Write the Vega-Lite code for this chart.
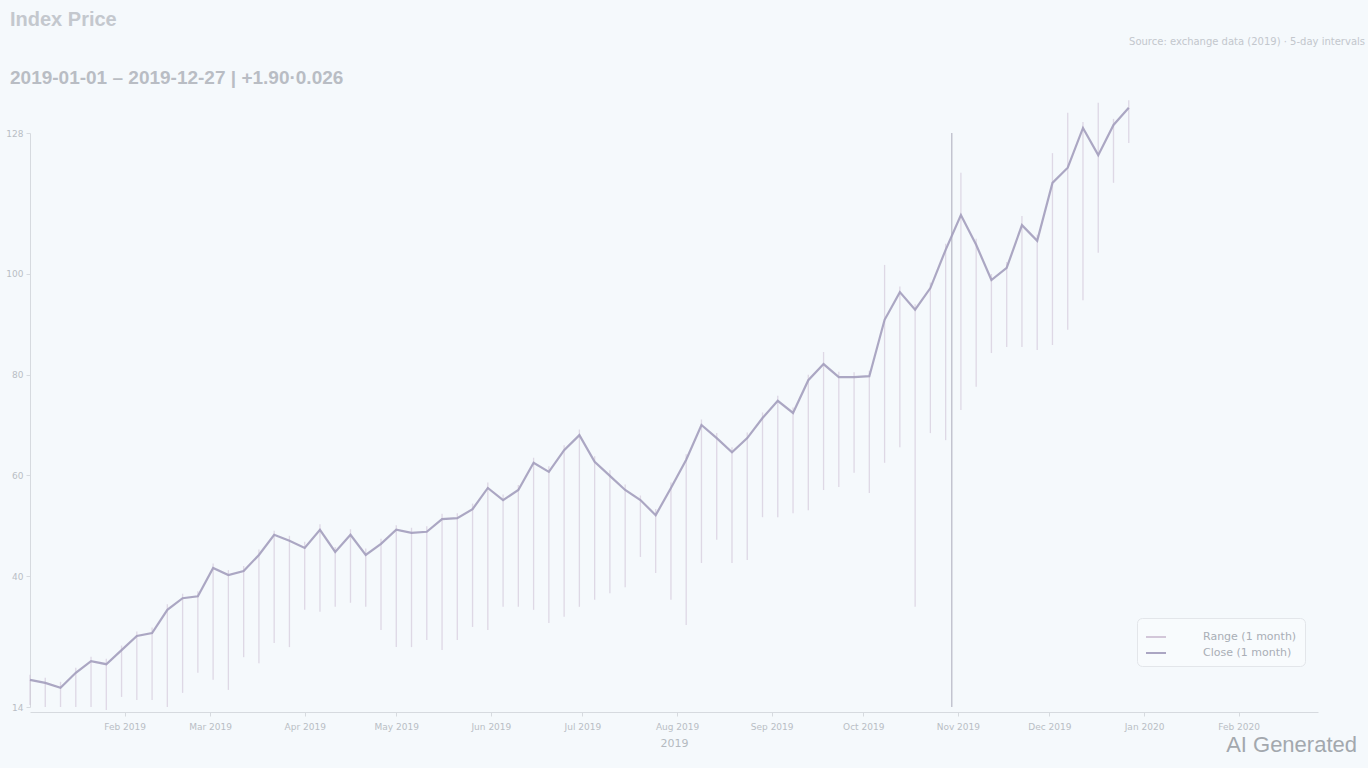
{
  "$schema": "https://vega.github.io/schema/vega-lite/v6.json",
  "width": 1288,
  "height": 574,
  "autosize": "none",
  "padding": {"left": 30, "top": 133, "right": 50, "bottom": 61},
  "background": "#f5f9fc",
  "title": {
    "text": "Index Price",
    "subtitle": "2019-01-01 – 2019-12-27 | +1.90·0.026",
    "anchor": "start",
    "frame": "group",
    "dx": -20,
    "offset": -51,
    "font": "Liberation Sans",
    "fontSize": 20,
    "fontWeight": "bold",
    "color": "#c4c8ce",
    "subtitleFont": "Liberation Sans",
    "subtitleFontSize": 19,
    "subtitleFontWeight": "bold",
    "subtitleColor": "#b9bdc4",
    "subtitlePadding": 39
  },
  "datasets": {
    "prices": [
      {"date": "2019-01-01", "close": 19.4, "low": 14.4, "high": 20.4},
      {"date": "2019-01-06", "close": 18.8, "low": 14.0, "high": 19.8},
      {"date": "2019-01-11", "close": 17.8, "low": 14.0, "high": 19.0},
      {"date": "2019-01-16", "close": 20.8, "low": 14.0, "high": 21.8},
      {"date": "2019-01-21", "close": 23.1, "low": 14.0, "high": 24.0},
      {"date": "2019-01-26", "close": 22.5, "low": 13.4, "high": 23.6},
      {"date": "2019-01-31", "close": 25.3, "low": 16.0, "high": 26.2},
      {"date": "2019-02-05", "close": 28.1, "low": 15.4, "high": 29.0},
      {"date": "2019-02-10", "close": 28.7, "low": 15.4, "high": 29.8},
      {"date": "2019-02-15", "close": 33.3, "low": 14.0, "high": 34.4},
      {"date": "2019-02-20", "close": 35.6, "low": 16.8, "high": 36.5},
      {"date": "2019-02-25", "close": 36.0, "low": 20.8, "high": 37.0},
      {"date": "2019-03-02", "close": 41.6, "low": 19.4, "high": 42.5},
      {"date": "2019-03-07", "close": 40.2, "low": 17.4, "high": 41.2},
      {"date": "2019-03-12", "close": 41.0, "low": 23.9, "high": 42.0},
      {"date": "2019-03-17", "close": 44.2, "low": 22.7, "high": 45.3},
      {"date": "2019-03-22", "close": 48.2, "low": 26.7, "high": 49.0},
      {"date": "2019-03-27", "close": 47.0, "low": 25.9, "high": 48.0},
      {"date": "2019-04-01", "close": 45.6, "low": 33.3, "high": 46.8},
      {"date": "2019-04-06", "close": 49.2, "low": 32.9, "high": 50.3},
      {"date": "2019-04-11", "close": 44.8, "low": 33.9, "high": 45.8},
      {"date": "2019-04-16", "close": 48.2, "low": 34.7, "high": 49.3},
      {"date": "2019-04-21", "close": 44.2, "low": 33.9, "high": 45.5},
      {"date": "2019-04-26", "close": 46.4, "low": 29.3, "high": 47.4},
      {"date": "2019-05-01", "close": 49.2, "low": 25.9, "high": 50.1},
      {"date": "2019-05-06", "close": 48.6, "low": 25.9, "high": 49.6},
      {"date": "2019-05-11", "close": 48.8, "low": 27.3, "high": 49.9},
      {"date": "2019-05-16", "close": 51.3, "low": 25.3, "high": 52.4},
      {"date": "2019-05-21", "close": 51.5, "low": 27.3, "high": 52.5},
      {"date": "2019-05-26", "close": 53.3, "low": 29.9, "high": 54.4},
      {"date": "2019-05-31", "close": 57.5, "low": 29.3, "high": 58.6},
      {"date": "2019-06-05", "close": 55.1, "low": 33.9, "high": 56.2},
      {"date": "2019-06-10", "close": 57.1, "low": 33.9, "high": 58.1},
      {"date": "2019-06-15", "close": 62.5, "low": 33.3, "high": 63.5},
      {"date": "2019-06-20", "close": 60.7, "low": 30.7, "high": 61.8},
      {"date": "2019-06-25", "close": 65.0, "low": 31.9, "high": 66.0},
      {"date": "2019-06-30", "close": 68.0, "low": 33.9, "high": 69.1},
      {"date": "2019-07-05", "close": 62.7, "low": 35.3, "high": 63.8},
      {"date": "2019-07-10", "close": 59.9, "low": 36.6, "high": 61.0},
      {"date": "2019-07-15", "close": 57.1, "low": 37.8, "high": 58.2},
      {"date": "2019-07-20", "close": 55.1, "low": 43.8, "high": 56.0},
      {"date": "2019-07-25", "close": 52.1, "low": 40.6, "high": 53.3},
      {"date": "2019-07-30", "close": 57.5, "low": 35.3, "high": 58.6},
      {"date": "2019-08-04", "close": 63.1, "low": 30.3, "high": 64.2},
      {"date": "2019-08-09", "close": 70.0, "low": 42.6, "high": 71.1},
      {"date": "2019-08-14", "close": 67.4, "low": 47.2, "high": 68.4},
      {"date": "2019-08-19", "close": 64.6, "low": 42.6, "high": 65.6},
      {"date": "2019-08-24", "close": 67.4, "low": 43.2, "high": 68.5},
      {"date": "2019-08-29", "close": 71.4, "low": 51.7, "high": 72.5},
      {"date": "2019-09-03", "close": 74.8, "low": 51.7, "high": 75.8},
      {"date": "2019-09-08", "close": 72.4, "low": 52.5, "high": 73.5},
      {"date": "2019-09-13", "close": 78.9, "low": 53.1, "high": 80.0},
      {"date": "2019-09-18", "close": 82.1, "low": 57.1, "high": 84.5},
      {"date": "2019-09-23", "close": 79.5, "low": 57.7, "high": 80.6},
      {"date": "2019-09-28", "close": 79.5, "low": 60.5, "high": 80.5},
      {"date": "2019-10-03", "close": 79.7, "low": 56.5, "high": 80.8},
      {"date": "2019-10-08", "close": 90.9, "low": 62.5, "high": 101.8},
      {"date": "2019-10-13", "close": 96.4, "low": 65.6, "high": 97.5},
      {"date": "2019-10-18", "close": 92.9, "low": 33.9, "high": 94.0},
      {"date": "2019-10-23", "close": 97.2, "low": 68.4, "high": 98.3},
      {"date": "2019-10-28", "close": 104.8, "low": 67.0, "high": 106.0},
      {"date": "2019-11-02", "close": 111.7, "low": 73.0, "high": 120.1},
      {"date": "2019-11-07", "close": 105.8, "low": 77.6, "high": 107.0},
      {"date": "2019-11-12", "close": 98.8, "low": 84.3, "high": 100.0},
      {"date": "2019-11-17", "close": 101.2, "low": 85.5, "high": 102.4},
      {"date": "2019-11-22", "close": 109.7, "low": 85.5, "high": 111.5},
      {"date": "2019-11-27", "close": 106.6, "low": 84.9, "high": 107.8},
      {"date": "2019-12-02", "close": 118.1, "low": 85.9, "high": 124.0},
      {"date": "2019-12-07", "close": 121.1, "low": 88.9, "high": 132.0},
      {"date": "2019-12-12", "close": 129.0, "low": 94.8, "high": 130.2},
      {"date": "2019-12-17", "close": 123.6, "low": 104.2, "high": 134.0},
      {"date": "2019-12-22", "close": 129.6, "low": 118.1, "high": 130.8},
      {"date": "2019-12-27", "close": 133.0, "low": 126.0, "high": 134.5}
    ],
    "events": [
      {"date": "2019-10-30", "label": "event"}
    ],
    "notes": [
      {"label": "note"}
    ]
  },
  "layer": [
    {
      "data": {"name": "prices"},
      "mark": {"type": "rule", "strokeWidth": 1.3, "opacity": 0.6},
      "encoding": {
        "x": {
          "field": "date",
          "type": "temporal",
          "title": "2019",
          "scale": {
            "type": "utc",
            "domain": [
              {"year": 2019, "month": 1, "date": 1, "utc": true},
              {"year": 2020, "month": 2, "date": 27, "utc": true}
            ]
          },
          "axis": {
            "format": "%b %Y",
            "values": [
              {"year": 2019, "month": 2, "date": 1, "utc": true},
              {"year": 2019, "month": 3, "date": 1, "utc": true},
              {"year": 2019, "month": 4, "date": 1, "utc": true},
              {"year": 2019, "month": 5, "date": 1, "utc": true},
              {"year": 2019, "month": 6, "date": 1, "utc": true},
              {"year": 2019, "month": 7, "date": 1, "utc": true},
              {"year": 2019, "month": 8, "date": 1, "utc": true},
              {"year": 2019, "month": 9, "date": 1, "utc": true},
              {"year": 2019, "month": 10, "date": 1, "utc": true},
              {"year": 2019, "month": 11, "date": 1, "utc": true},
              {"year": 2019, "month": 12, "date": 1, "utc": true},
              {"year": 2020, "month": 1, "date": 1, "utc": true},
              {"year": 2020, "month": 2, "date": 1, "utc": true}
            ],
            "labelFlush": false,
            "offset": 5,
            "labelPadding": 6,
            "titlePadding": 6
          }
        },
        "y": {
          "field": "low",
          "type": "quantitative",
          "title": null,
          "scale": {"domain": [14, 128], "zero": false, "nice": false},
          "axis": {"values": [14, 40, 60, 80, 100, 128], "labelPadding": 3}
        },
        "y2": {"field": "high"},
        "color": {
          "datum": "Range (1 month)",
          "scale": {
            "domain": ["Range (1 month)", "Close (1 month)"],
            "range": ["#cfc2d6", "#a39dbd"]
          },
          "legend": {
            "orient": "none",
            "legendX": 1107,
            "legendY": 485,
            "title": null,
            "symbolType": "stroke",
            "symbolSize": 400,
            "symbolStrokeWidth": 2,
            "symbolOpacity": 1,
            "labelFontSize": 11,
            "labelOffset": 36,
            "labelColor": "#a9aeb6",
            "rowPadding": 0,
            "padding": 8,
            "fillColor": "#f8fbfd",
            "strokeColor": "#e3e6ea",
            "cornerRadius": 5
          }
        }
      }
    },
    {
      "data": {"name": "events"},
      "mark": {"type": "rule", "color": "#c3c4d0", "strokeWidth": 1.5},
      "encoding": {
        "x": {"field": "date", "type": "temporal"}
      }
    },
    {
      "data": {"name": "prices"},
      "mark": {"type": "line", "strokeWidth": 2.2, "opacity": 0.9},
      "encoding": {
        "x": {"field": "date", "type": "temporal"},
        "y": {"field": "close", "type": "quantitative"},
        "color": {"datum": "Close (1 month)"}
      }
    },
    {
      "data": {"name": "notes"},
      "mark": {
        "type": "text",
        "align": "right",
        "baseline": "middle",
        "dx": 47,
        "fontSize": 10,
        "color": "#c3c7cd",
        "text": "Source: exchange data (2019) · 5-day intervals"
      },
      "encoding": {
        "x": {"datum": {"year": 2020, "month": 2, "date": 27, "utc": true}, "type": "temporal"},
        "y": {"datum": 146, "type": "quantitative"}
      }
    },
    {
      "data": {"name": "notes"},
      "mark": {
        "type": "text",
        "align": "right",
        "baseline": "middle",
        "dx": 39,
        "font": "Liberation Sans",
        "fontSize": 22,
        "color": "#a3a8ae",
        "text": "AI Generated"
      },
      "encoding": {
        "x": {"datum": {"year": 2020, "month": 2, "date": 27, "utc": true}, "type": "temporal"},
        "y": {"datum": 6.5, "type": "quantitative"}
      }
    }
  ],
  "config": {
    "view": {"stroke": null},
    "font": "DejaVu Sans",
    "axis": {
      "grid": false,
      "domainColor": "#d6dadf",
      "tickColor": "#d6dadf",
      "tickSize": 4,
      "labelColor": "#b9bec5",
      "labelFontSize": 9,
      "titleColor": "#b4b9c0",
      "titleFontSize": 11,
      "titleFontWeight": "normal"
    }
  }
}
